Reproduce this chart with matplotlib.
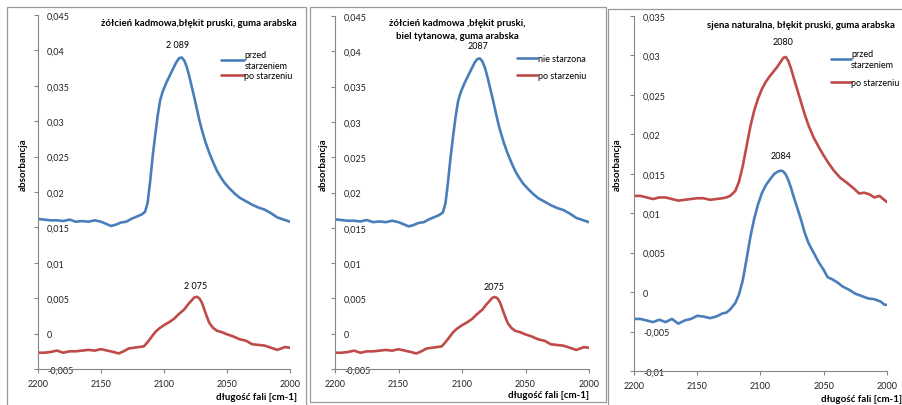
import matplotlib
matplotlib.use("Agg")
import matplotlib.pyplot as plt
from matplotlib.patches import Rectangle
from matplotlib.ticker import FuncFormatter, MultipleLocator

plt.rcParams["font.family"] = ["Lato", "DejaVu Sans"]

BLUE = "#4a7ebb"
RED = "#be4b48"

# panel 1: zolcien kadmowa, blekit pruski, guma arabska
p1_blue_x = [2200, 2195, 2190, 2185, 2180, 2175, 2170, 2165, 2160, 2155, 2150, 2146, 2142,
             2138, 2134, 2130, 2126, 2122, 2118, 2115, 2113, 2111, 2109, 2107, 2105, 2103,
             2101, 2098, 2095, 2092, 2090, 2088, 2086, 2084, 2082, 2080, 2078, 2076, 2074,
             2072, 2070, 2067, 2064, 2061, 2058, 2055, 2052, 2048, 2044, 2040, 2035, 2030,
             2025, 2020, 2015, 2010, 2005, 2000]
p1_blue_y = [0.0162, 0.0161, 0.0160, 0.0160, 0.0159, 0.0161, 0.0158, 0.0159, 0.0158, 0.0160,
             0.0158, 0.0155, 0.0152, 0.0154, 0.0157, 0.0158, 0.0162, 0.0165, 0.0168, 0.0172,
             0.0185, 0.0215, 0.0250, 0.0280, 0.0308, 0.0330, 0.0342, 0.0355, 0.0366, 0.0377,
             0.0384, 0.0389, 0.0390, 0.0386, 0.0377, 0.0364, 0.0349, 0.0334, 0.0318, 0.0302,
             0.0288, 0.0270, 0.0255, 0.0242, 0.0230, 0.0221, 0.0213, 0.0205, 0.0198, 0.0192,
             0.0187, 0.0182, 0.0178, 0.0175, 0.0170, 0.0164, 0.0161, 0.0158]
p1_red_x = [2200, 2195, 2190, 2185, 2180, 2175, 2170, 2165, 2160, 2155, 2150, 2145, 2140,
            2136, 2132, 2128, 2124, 2120, 2116, 2113, 2110, 2107, 2104, 2100, 2096, 2092,
            2088, 2084, 2081, 2078, 2076, 2074, 2072, 2070, 2068, 2066, 2064, 2061, 2058,
            2054, 2050, 2045, 2040, 2035, 2030, 2025, 2020, 2015, 2010, 2007, 2004, 2000]
p1_red_y = [-0.0027, -0.0027, -0.0026, -0.0024, -0.0027, -0.0025, -0.0025, -0.0024, -0.0023,
            -0.0024, -0.0022, -0.0024, -0.0026, -0.0028, -0.0025, -0.0021, -0.0020, -0.0019,
            -0.0018, -0.0012, -0.0005, 0.0002, 0.0007, 0.0012, 0.0016, 0.0021, 0.0028,
            0.0034, 0.0041, 0.0047, 0.0051, 0.0052, 0.0050, 0.0044, 0.0034, 0.0024, 0.0015,
            0.0008, 0.0004, 0.0002, -0.0001, -0.0004, -0.0008, -0.0010, -0.0015, -0.0016,
            -0.0017, -0.0020, -0.0023, -0.0021, -0.0019, -0.0020]

# panel 2: zolcien kadmowa, blekit pruski, biel tytanowa, guma arabska
p2_blue_x = [2200, 2195, 2190, 2185, 2180, 2175, 2170, 2165, 2160, 2155, 2150, 2146, 2142,
             2138, 2134, 2130, 2126, 2122, 2118, 2115, 2113, 2111, 2109, 2107, 2105, 2103,
             2101, 2098, 2095, 2092, 2090, 2088, 2086, 2084, 2082, 2080, 2078, 2076, 2074,
             2072, 2070, 2067, 2064, 2061, 2058, 2055, 2052, 2048, 2044, 2040, 2035, 2030,
             2025, 2020, 2015, 2010, 2005, 2000]
p2_blue_y = [0.0162, 0.0161, 0.0160, 0.0160, 0.0159, 0.0161, 0.0158, 0.0159, 0.0158, 0.0160,
             0.0158, 0.0155, 0.0152, 0.0154, 0.0157, 0.0158, 0.0162, 0.0165, 0.0168, 0.0172,
             0.0185, 0.0215, 0.0250, 0.0280, 0.0308, 0.0330, 0.0342, 0.0355, 0.0366, 0.0377,
             0.0384, 0.0389, 0.0390, 0.0386, 0.0377, 0.0364, 0.0349, 0.0334, 0.0318, 0.0302,
             0.0288, 0.0270, 0.0255, 0.0242, 0.0230, 0.0221, 0.0213, 0.0205, 0.0198, 0.0192,
             0.0187, 0.0182, 0.0178, 0.0175, 0.0170, 0.0164, 0.0161, 0.0158]
p2_red_x = [2200, 2195, 2190, 2185, 2180, 2175, 2170, 2165, 2160, 2155, 2150, 2145, 2140,
            2136, 2132, 2128, 2124, 2120, 2116, 2113, 2110, 2107, 2104, 2100, 2096, 2092,
            2088, 2084, 2081, 2078, 2076, 2074, 2072, 2070, 2068, 2066, 2064, 2061, 2058,
            2054, 2050, 2045, 2040, 2035, 2030, 2025, 2020, 2015, 2010, 2007, 2004, 2000]
p2_red_y = [-0.0027, -0.0027, -0.0026, -0.0024, -0.0027, -0.0025, -0.0025, -0.0024, -0.0023,
            -0.0024, -0.0022, -0.0024, -0.0026, -0.0028, -0.0025, -0.0021, -0.0020, -0.0019,
            -0.0018, -0.0012, -0.0005, 0.0002, 0.0007, 0.0012, 0.0016, 0.0021, 0.0028,
            0.0034, 0.0041, 0.0047, 0.0051, 0.0052, 0.0050, 0.0044, 0.0034, 0.0024, 0.0015,
            0.0008, 0.0004, 0.0002, -0.0001, -0.0004, -0.0008, -0.0010, -0.0015, -0.0016,
            -0.0017, -0.0020, -0.0023, -0.0021, -0.0019, -0.0020]

# panel 3: sjena naturalna, blekit pruski, guma arabska
p3_blue_x = [2200, 2195, 2190, 2185, 2180, 2175, 2170, 2165, 2160, 2155, 2150, 2145, 2140,
             2135, 2130, 2127, 2124, 2120, 2117, 2114, 2111, 2108, 2105, 2102, 2099, 2096,
             2092, 2089, 2086, 2084, 2082, 2080, 2078, 2076, 2074, 2071, 2068, 2065, 2062,
             2058, 2054, 2050, 2047, 2043, 2039, 2035, 2030, 2025, 2020, 2015, 2010, 2005,
             2002, 2000]
p3_blue_y = [-0.0034, -0.0034, -0.0036, -0.0038, -0.0035, -0.0038, -0.0034, -0.0040, -0.0036,
             -0.0034, -0.0030, -0.0031, -0.0033, -0.0031, -0.0027, -0.0026, -0.0022, -0.0014,
             -0.0003, 0.0015, 0.0042, 0.0070, 0.0093, 0.0111, 0.0125, 0.0135, 0.0144, 0.0150,
             0.0153, 0.0154, 0.0153, 0.0149, 0.0142, 0.0133, 0.0122, 0.0107, 0.0092, 0.0075,
             0.0062, 0.0050, 0.0038, 0.0028, 0.0019, 0.0016, 0.0012, 0.0007, 0.0003, -0.0002,
             -0.0005, -0.0008, -0.0009, -0.0012, -0.0016, -0.0016]
p3_red_x = [2200, 2195, 2190, 2185, 2180, 2175, 2170, 2165, 2160, 2155, 2150, 2145, 2140,
            2135, 2130, 2127, 2124, 2120, 2117, 2114, 2111, 2108, 2105, 2102, 2099, 2096,
            2093, 2090, 2087, 2084, 2082, 2080, 2078, 2076, 2074, 2071, 2068, 2065, 2062,
            2058, 2054, 2050, 2046, 2042, 2037, 2032, 2026, 2022, 2018, 2014, 2010, 2006,
            2003, 2000]
p3_red_y = [0.0122, 0.0122, 0.0120, 0.0118, 0.0120, 0.0120, 0.0118, 0.0116, 0.0117, 0.0118,
            0.0119, 0.0119, 0.0117, 0.0118, 0.0119, 0.0120, 0.0122, 0.0128, 0.0140, 0.0160,
            0.0185, 0.0210, 0.0230, 0.0245, 0.0257, 0.0266, 0.0273, 0.0279, 0.0285, 0.0292,
            0.0297, 0.0298, 0.0293, 0.0284, 0.0273, 0.0257, 0.0241, 0.0225, 0.0211, 0.0196,
            0.0184, 0.0173, 0.0163, 0.0154, 0.0145, 0.0139, 0.0131, 0.0125, 0.0126, 0.0124,
            0.0120, 0.0122, 0.0118, 0.0114]

W, H = 903, 406
fig = plt.figure(figsize=(W / 100, H / 100), dpi=100)


def px_rect(x0, y0, x1, y1):
    return [x0 / W, 1 - y1 / H, (x1 - x0) / W, (y1 - y0) / H]


def comma(v, pos):
    s = "%g" % round(v, 4)
    return s.replace(".", ",")


def setup(ax, ylo, yhi):
    ax.set_xlim(2200, 2000)
    ax.set_ylim(ylo, yhi)
    ax.xaxis.set_major_locator(MultipleLocator(50))
    ax.yaxis.set_major_locator(MultipleLocator(0.005))
    ax.yaxis.set_major_formatter(FuncFormatter(comma))
    for s in ("top", "right"):
        ax.spines[s].set_visible(False)
    for s in ("left", "bottom"):
        ax.spines[s].set_color("#868686")
        ax.spines[s].set_linewidth(0.8)
    ax.tick_params(axis="y", direction="out", length=3, width=0.8, color="#868686",
                   labelsize=6.5, pad=-9.5, labelcolor="#222222")
    ax.tick_params(axis="x", direction="out", length=3, width=0.8, color="#868686",
                   labelsize=6.5, pad=4, labelcolor="#222222")
    for lab in ax.get_yticklabels():
        lab.set_horizontalalignment("left")
    ax.patch.set_alpha(0)


def draw(ax, x, y, color, label):
    ax.plot(x, y, color=color, lw=1.9, label=label, solid_joinstyle="round",
            solid_capstyle="round")


def ylabel(x):
    fig.text(x / W, 1 - 165 / H, "absorbancja", rotation=90, fontsize=7,
             fontweight="bold", ha="center", va="center")


def xlabel(x, y):
    fig.text(x / W, 1 - y / H, "długość fali [cm-1]", fontsize=7, fontweight="bold",
             ha="right", va="center")


# panel frames
for x0, y0, x1, y1 in [(7, 8, 306, 410), (310, 8, 606, 403), (608, 10, 910, 410)]:
    fig.patches.append(Rectangle((x0 / W, 1 - y1 / H), (x1 - x0) / W, (y1 - y0) / H,
                                 transform=fig.transFigure, fill=False,
                                 edgecolor="#9a9a9a", linewidth=0.9))

leg_kw = dict(loc="upper left", frameon=False, fontsize=6.5, handletextpad=0.05,
              borderpad=0)

# panel 1
ax1 = fig.add_axes(px_rect(38, 16, 290, 370))
setup(ax1, -0.005, 0.045)
draw(ax1, p1_blue_x, p1_blue_y, BLUE, "przed\nstarzeniem")
draw(ax1, p1_red_x, p1_red_y, RED, "po starzeniu")
ax1.text(2089, 0.0402, "2 089", fontsize=6.5, ha="center", va="bottom")
ax1.text(2075, 0.0061, "2 075", fontsize=6.5, ha="center", va="bottom")
fig.text(297 / W, 1 - 24 / H, "żółcień kadmowa,błękit pruski, guma arabska", fontsize=6.9,
         fontweight="bold", ha="right", va="center")
leg = ax1.legend(bbox_to_anchor=(0.71, 0.915), handlelength=2.5, labelspacing=0.15, **leg_kw)
for t in leg.get_texts():
    t.set_linespacing(1.35)
ylabel(23)
xlabel(297, 398)

# panel 2
ax2 = fig.add_axes(px_rect(335, 17, 589, 370))
setup(ax2, -0.005, 0.045)
draw(ax2, p2_blue_x, p2_blue_y, BLUE, "nie starzona")
draw(ax2, p2_red_x, p2_red_y, RED, "po starzeniu")
ax2.text(2087, 0.0402, "2087", fontsize=6.5, ha="center", va="bottom")
ax2.text(2075, 0.0061, "2075", fontsize=6.5, ha="center", va="bottom")
fig.text(457 / W, 1 - 30 / H, "żółcień kadmowa ,błękit pruski,\nbiel tytanowa, guma arabska",
         fontsize=6.9, fontweight="bold", ha="center", va="center", linespacing=1.45)
ax2.legend(bbox_to_anchor=(0.70, 0.905), handlelength=2.2, labelspacing=0.85, **leg_kw)
ylabel(323)
xlabel(589, 396)

# panel 3
ax3 = fig.add_axes(px_rect(634, 17, 887, 372))
setup(ax3, -0.01, 0.035)
draw(ax3, p3_blue_x, p3_blue_y, BLUE, "przed\nstarzeniem")
draw(ax3, p3_red_x, p3_red_y, RED, "po starzeniu")
ax3.text(2082, 0.0312, "2080", fontsize=6.5, ha="center", va="bottom")
ax3.text(2084, 0.0167, "2084", fontsize=6.5, ha="center", va="bottom")
fig.text(895 / W, 1 - 25 / H, "sjena naturalna, błękit pruski, guma arabska", fontsize=6.9,
         fontweight="bold", ha="right", va="center")
leg = ax3.legend(bbox_to_anchor=(0.76, 0.92), handlelength=2.2, labelspacing=0.95, **leg_kw)
for t in leg.get_texts():
    t.set_linespacing(1.35)
ylabel(617)
xlabel(902, 400)

fig.savefig("out.png", dpi=100)
